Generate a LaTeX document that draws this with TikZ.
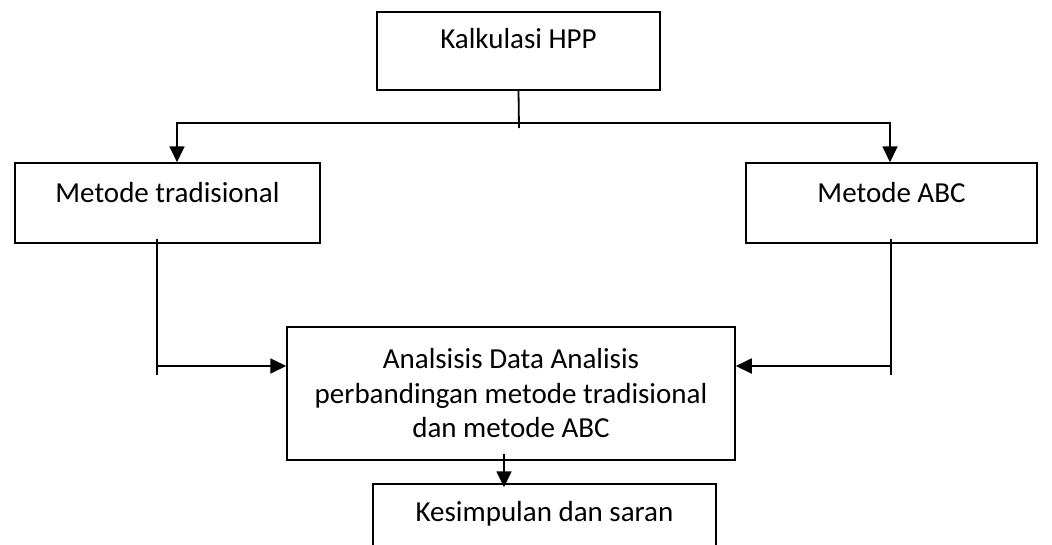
\documentclass[tikz,border=0pt]{standalone}
\usepackage{fontspec}
\setmainfont{Carlito}
\usetikzlibrary{arrows.meta}

\begin{document}
\begin{tikzpicture}[x=1pt,y=-1pt,
		box/.style={draw,line width=1.5pt,align=center,inner sep=0pt,font=\fontsize{29}{34.5}\selectfont},
		arrow/.style={line width=1.8pt,-{Triangle[width=15pt,length=16pt]}},
		plain/.style={line width=1.8pt}]
		\useasboundingbox (0,0) rectangle (1052,544);
		\node[box,minimum width=283pt,minimum height=78pt,text height=20pt,text depth=26pt] (hpp) at (518.5,51) {Kalkulasi HPP};
		\node[box,minimum width=305pt,minimum height=80pt,text height=20pt,text depth=22pt] (trad) at (167.5,203) {Metode tradisional};
		\node[box,minimum width=291pt,minimum height=80pt,text height=20pt,text depth=22pt] (abc) at (891.5,203) {Metode ABC};
		\node[box,minimum width=448pt,minimum height=133pt] (anal) at (511,393.5) {Analsisis Data Analisis\\perbandingan metode tradisional\\dan metode ABC};
		\node[box,minimum width=343pt,minimum height=70pt,text height=20pt,text depth=16pt] (kes) at (544.5,519) {Kesimpulan dan saran};
		% percabangan dari kalkulasi HPP
		\coordinate (split) at (519,123);
		\draw[plain] (hpp.south) -- ([yshift=-5pt]split);
		\draw[arrow] (split) -| ([xshift=9.5pt]trad.north);
		\draw[arrow] (split) -| ([xshift=-1.5pt]abc.north);
		% masuk ke analisis
		\coordinate (ljoin) at (157,366);
		\coordinate (rjoin) at (891,366);
		\draw[plain] ([yshift=5pt]trad.south -| ljoin) -- ([yshift=-9pt]ljoin);
		\draw[plain] ([yshift=5pt]abc.south -| rjoin) -- ([yshift=-9pt]rjoin);
		\draw[arrow] (ljoin) -- (ljoin -| anal.west);
		\draw[arrow] (rjoin) -- (rjoin -| anal.east);
		% ke kesimpulan
		\coordinate (down) at (504,454);
		\draw[arrow] (down) -- ([yshift=-4pt]kes.north -| down);
\end{tikzpicture}
\end{document}
